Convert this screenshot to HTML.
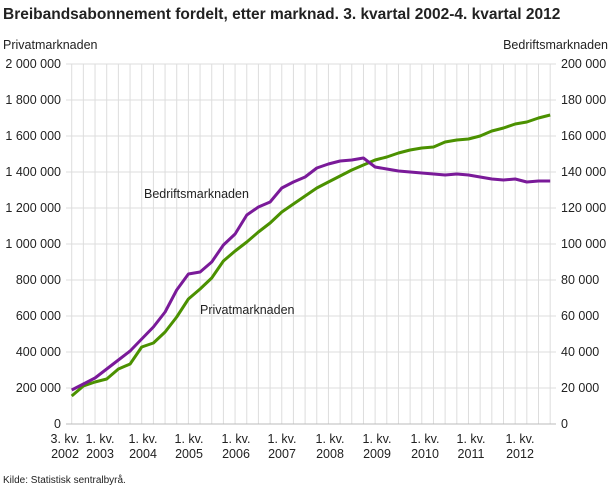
<!DOCTYPE html>
<html><head><meta charset="utf-8"><style>
body{margin:0;background:#fff;font-family:"Liberation Sans",sans-serif;}
svg text{font-family:"Liberation Sans",sans-serif;fill:#222;}
</style></head><body>
<svg width="610" height="488" viewBox="0 0 610 488" xmlns="http://www.w3.org/2000/svg">
<text x="3" y="19" font-size="15.5" font-weight="bold" fill="#222">Breibandsabonnement fordelt, etter marknad. 3. kvartal 2002-4. kvartal 2012</text>
<text x="3" y="49" font-size="12.5">Privatmarknaden</text>
<text x="608" y="49" font-size="12.5" text-anchor="end">Bedriftsmarknaden</text>
<g transform="translate(0,2)">
<g id="grid" stroke="#dddddd" stroke-width="1"></g>
<line x1="66" y1="422" x2="556" y2="422" stroke="#bbb"/>
<g font-size="12.5" text-anchor="end" id="yl"></g>
<g font-size="12.5" id="yr"></g>
<polyline id="pg" fill="none" stroke="#4b9100" stroke-width="3" stroke-linejoin="round"/>
<polyline id="pp" fill="none" stroke="#7a1a99" stroke-width="3" stroke-linejoin="round"/>
<text x="144" y="196" font-size="12.5">Bedriftsmarknaden</text>
<text x="200" y="312" font-size="12.5">Privatmarknaden</text>
</g>
<g font-size="12.5" text-anchor="middle" id="xl"></g>
<text x="3" y="483" font-size="10">Kilde: Statistisk sentralbyrå.</text>
</svg>
<script>
var ns="http://www.w3.org/2000/svg";
function el(p,t,a,txt){var e=document.createElementNS(ns,t);for(var k in a)e.setAttribute(k,a[k]);if(txt!==undefined)e.textContent=txt;document.getElementById(p).appendChild(e);}
var x0=71.7,dx=11.67;
for(var k=0;k<42;k++){var x=x0+k*dx;el("grid","line",{x1:x,y1:62,x2:x,y2:422});}
var L=["0","200 000","400 000","600 000","800 000","1 000 000","1 200 000","1 400 000","1 600 000","1 800 000","2 000 000"];
var R=["0","20 000","40 000","60 000","80 000","100 000","120 000","140 000","160 000","180 000","200 000"];
for(var i=0;i<=10;i++){var y=422-i*36;if(i>0)el("grid","line",{x1:66,y1:y,x2:556,y2:y});
el("yl","text",{x:61,y:y+4},L[i]);el("yr","text",{x:561,y:y+4},R[i]);}
var xs=[[65,"3. kv."],[100,"1. kv."],[143,"1. kv."],[189,"1. kv."],[236,"1. kv."],[282,"1. kv."],[330,"1. kv."],[377,"1. kv."],[425,"1. kv."],[471,"1. kv."],[520,"1. kv."]];
var yrs=["2002","2003","2004","2005","2006","2007","2008","2009","2010","2011","2012"];
for(var i=0;i<xs.length;i++){el("xl","text",{x:xs[i][0],y:443},xs[i][1]);el("xl","text",{x:xs[i][0],y:458},yrs[i]);}
var g=[394,384,380,377,367,362,345,341,330,315,297,287,276,259,249,240,230,221,210,202,194,186,180,174,168,163,158,155,151,148,146,145,140,138,137,134,129,126,122,120,116,113];
var p=[388,382,376,367,358,349,337,325,310,288,272,270,260,243,232,213,205,200,186,180,175,166,162,159,158,156,165,167,169,170,171,172,173,172,173,175,177,178,177,180,179,179];
function pts(a){return a.map(function(v,i){return (x0+i*dx).toFixed(1)+","+v}).join(" ");}
document.getElementById("pg").setAttribute("points",pts(g));
document.getElementById("pp").setAttribute("points",pts(p));
</script>
</body></html>
